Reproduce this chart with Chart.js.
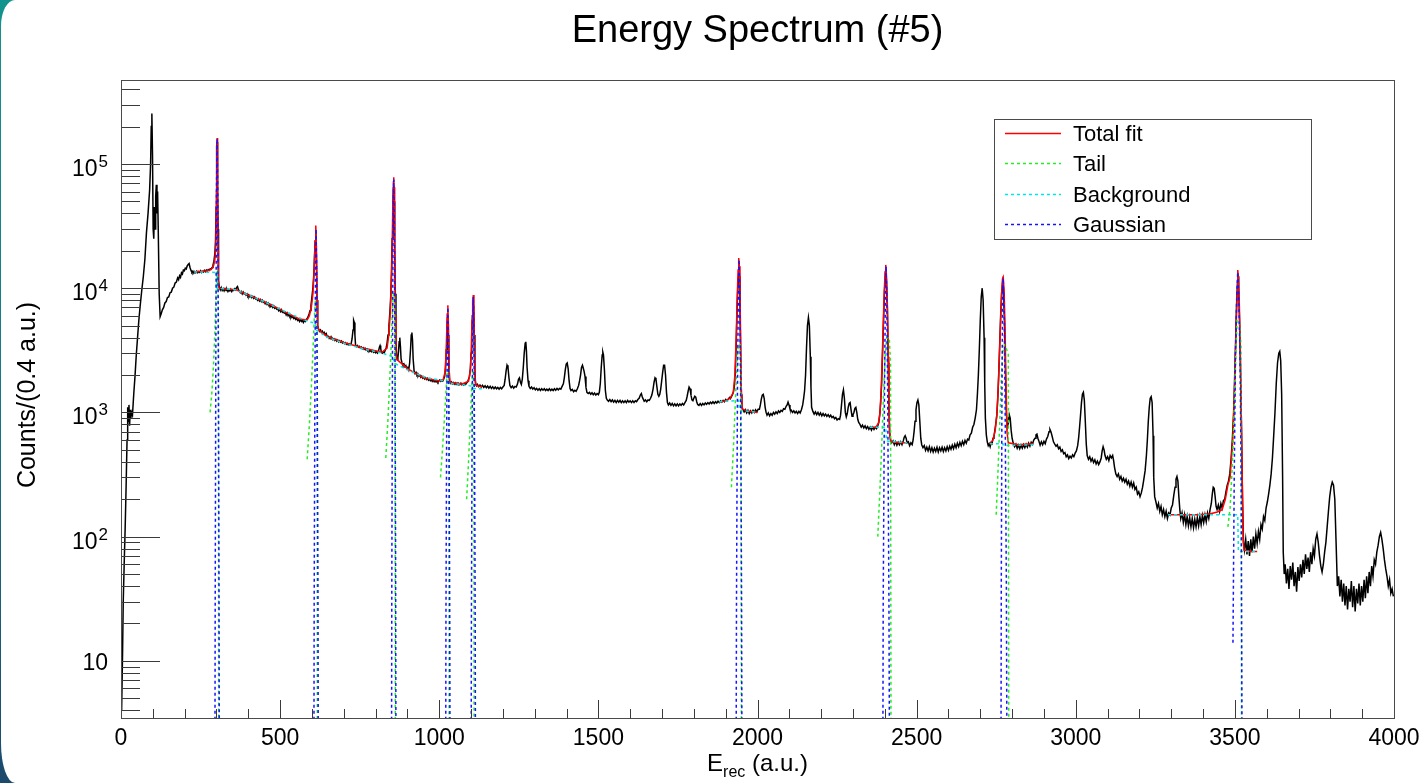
<!DOCTYPE html>
<html>
<head>
<meta charset="utf-8">
<title>Energy Spectrum (#5)</title>
<script src="https://cdn.jsdelivr.net/npm/chart.js@4.4.0/dist/chart.umd.min.js"></script>
<style>
  html, body { margin: 0; padding: 0; }
  body {
    width: 1422px; height: 783px; overflow: hidden; position: relative;
    background: linear-gradient(180deg, #12938d 0%, #177c86 45%, #1c4a6c 100%);
  }
  .card {
    position: absolute; left: 1px; top: 0; right: 0; bottom: 0; background: #fff;
    border-radius: 14px 0 0 14px / 26px 0 0 40px;
  }
  #spectrum { position: absolute; left: 0; top: 0; }
</style>
</head>
<body>
<div class="card"></div>
<canvas id="spectrum" width="1422" height="783"></canvas>
<script>
// axis ranges and tick labels
const xRange = [0, 4000];
const yRange = [3.47, 4.74e5];
const xTicks = [0, 500, 1000, 1500, 2000, 2500, 3000, 3500, 4000];
const xMinorStep = 100;
const yDecades = [10, 100, 1000, 10000, 100000];

const spectrum = [
  [2,4],[5,12],[7,30],[10,60],[13,115],[16,250],[19,600],[21,1100],[23,850],[25,1150],[27,780],[29,1050],[31,900],[33,1000],[36,950],
  [40,1400],[44,1950],[48,2900],[52,4000],[56,5500],[60,7100],[65,9500],[70,12300],[75,17000],[80,28000],[85,40000],[90,62000],
  [93,100000],[95,200000],[97,255000],[99,120000],[101,30000],[103,25000],[105,45000],[107,30000],[109,55000],[111,68000],[113,40000],
  [115,60000],[117,30000],[120,9000],[123,5900],
  [126,6200],[130,6700],[134,7000],[138,7600],[142,7800],[146,8400],[150,8500],[154,9200],[158,9300],[162,10000],[166,10200],[170,11000],
  [174,11200],[178,12100],[181,11700],[184,12600],[187,12200],[190,13300],[193,13000],[196,14000],[199,13800],[202,14500],[205,14300],
  [208,15100],[211,15500],[214,15800],[217,14600],[220,13900],[223,13400],[226,13700],[229,13200],[232,13600],[235,13300],[238,13700],
  [241,13300],[244,13600],[247,13400],[250,13800],[253,13400],[256,13700],[259,13500],[262,13900],[265,13600],[268,14000],[271,13700],
  [274,14100],[277,13900],[280,14300],[283,14200],[286,14700],[289,15300],[292,16500],[295,19000],[297,24000],[299,45000],[300,90000],
  [301,140000],[302,150000],[303,120000],[304,60000],[305,30000],[306,16000],[307,11500],
  [309,10200],[312,9700],[315,10100],[318,9600],[321,9900],[324,9500],[327,9900],[330,9600],[333,9800],[336,9400],[339,9700],[342,9500],
  [345,9800],[348,9400],[351,9700],[354,9600],[357,9900],[360,9700],[363,10100],[366,10300],[369,9700],[372,9500],[375,9200],[378,9400],
  [381,9000],[384,9300],[387,9000],[390,9100],[393,8800],[396,9000],[399,8600],[402,8800],[405,8500],[408,8700],[411,8400],[414,8600],
  [417,8300],[420,8500],[423,8200],[426,8300],[429,8000],[432,8200],[435,7900],[438,8100],[441,7800],[444,8000],[447,7700],[450,7800],
  [453,7500],[456,7700],[459,7400],[462,7600],[465,7300],[468,7400],[471,7100],[474,7300],[477,7000],[480,7200],[483,6900],[486,7000],
  [489,6800],[492,6900],[495,6600],[498,6800],[501,6500],[504,6700],[507,6400],[510,6500],[513,6300],[516,6400],[519,6100],[522,6300],
  [525,6000],[528,6200],[531,5900],[534,6000],[537,5800],[540,5900],[543,5700],[546,5800],[549,5600],[552,5700],[555,5500],[558,5600],
  [561,5400],[564,5600],[567,5400],[570,5500],[573,5300],[576,5500],[579,5400],[582,5600],[585,5700],[588,5900],[591,6200],[594,6600],
  [597,7300],[600,8500],[603,10000],[606,13000],[608,18000],[610,24000],[612,28000],[614,18000],[616,8000],[618,5000],
  [621,4700],[624,4500],[627,4600],[630,4400],[633,4500],[636,4300],[639,4400],[642,4200],[645,4300],[648,4050],[651,4100],[654,3950],
  [657,4050],[660,3900],[663,3980],[666,3850],[669,3920],[672,3800],[675,3880],[678,3750],[681,3820],[684,3700],[687,3780],[690,3680],
  [693,3750],[696,3620],[699,3680],[702,3580],[705,3640],[708,3540],[711,3600],[714,3500],[717,3560],[720,3480],[723,3560],[726,3900],
  [729,4600],[731,5500],[733,5300],[735,4200],[737,3500],[740,3380],[743,3450],[746,3350],[749,3400],[752,3300],[755,3360],[758,3260],
  [761,3320],[764,3220],[767,3280],[770,3180],[773,3240],[776,3140],[779,3200],[782,3100],[785,3160],[788,3080],[791,3140],[794,3050],
  [797,3100],[800,3020],[803,3080],[806,3000],[809,3100],[812,3350],[814,3450],[816,3300],[818,3050],[821,3000],[824,3080],[827,3020],
  [830,3150],[833,3300],[836,3600],[839,4200],[842,5000],[845,6500],[848,9000],[850,14000],[852,25000],[854,45000],[856,65000],
  [858,50000],[860,22000],[862,9000],[864,3800],[866,2800],[868,2650],[870,2750],[872,3100],[874,3700],[876,4000],[878,3400],[880,2700],
  [883,2500],[886,2400],[889,2450],[892,2330],[895,2380],[898,2250],[901,2300],[904,2200],[907,2500],[910,3300],[912,4200],[914,4400],
  [916,3800],[918,2700],[921,2150],[924,2050],[927,2100],[930,2000],[933,2040],[936,1960],[939,2000],[942,1920],[945,1960],[948,1890],
  [951,1930],[954,1860],[957,1900],[960,1840],[963,1880],[966,1820],[969,1860],[972,1800],[975,1840],[978,1780],[981,1820],[984,1770],
  [987,1810],[990,1760],[993,1800],[996,1750],[999,1800],[1002,1830],[1005,1780],[1008,1820],[1011,1790],[1014,1860],[1017,1950],
  [1020,2300],[1022,3200],[1024,4800],[1026,5800],[1028,4200],[1030,2300],[1032,1800],[1035,1720],[1038,1760],[1041,1700],[1044,1740],
  [1047,1690],[1050,1730],[1053,1680],[1056,1720],[1059,1670],[1062,1710],[1065,1680],[1068,1720],[1071,1670],[1074,1700],[1077,1660],
  [1080,1700],[1083,1680],[1086,1730],[1089,1760],[1092,1850],[1095,1950],[1098,2300],[1100,3000],[1102,4200],[1104,6000],[1106,7800],
  [1108,7200],[1110,4200],[1112,2200],[1114,1700],[1117,1640],
  [1120,1680],[1124,1610],[1128,1660],[1132,1600],[1136,1650],[1140,1590],[1144,1640],[1148,1580],[1152,1630],[1156,1570],[1160,1620],
  [1164,1560],[1168,1610],[1172,1550],[1176,1600],[1180,1550],[1184,1590],[1188,1540],[1192,1590],[1196,1550],[1200,1600],[1204,1650],
  [1207,1850],[1210,2150],[1213,2400],[1216,2300],[1219,1900],[1222,1650],[1226,1580],[1230,1630],[1234,1570],[1238,1620],[1242,1600],
  [1246,1700],[1249,1850],[1252,1900],[1255,1750],[1258,1680],[1261,1850],[1264,2300],[1267,3000],[1270,3600],[1272,3700],[1274,3100],
  [1276,2300],[1279,1800],[1282,1620],[1286,1560],[1290,1600],[1294,1540],[1298,1580],[1302,1520],[1306,1560],[1310,1510],[1314,1550],
  [1318,1500],[1322,1550],[1326,1510],[1330,1550],[1334,1500],[1338,1540],[1342,1500],[1346,1550],[1350,1500],[1354,1540],[1358,1500],
  [1362,1550],[1366,1510],[1370,1560],[1374,1520],[1378,1560],[1382,1540],[1386,1620],[1390,1700],[1393,1900],[1396,2200],[1399,2450],
  [1402,2500],[1405,2250],[1408,1800],[1411,1560],[1414,1500],[1418,1530],[1422,1470],[1426,1510],[1430,1480],[1434,1550],[1438,1650],
  [1441,1800],[1444,2000],[1447,2300],[1450,2400],[1452,2300],[1455,2150],[1458,1950],[1461,1600],[1464,1450],[1468,1420],[1472,1450],
  [1476,1400],[1480,1440],[1484,1390],[1488,1430],[1492,1380],[1496,1420],[1500,1390],[1503,1450],[1506,1700],[1509,2300],[1512,2900],
  [1514,3050],[1516,2900],[1519,2200],[1522,1500],[1525,1300],[1528,1260],[1532,1230],[1536,1270],[1540,1220],[1544,1260],[1548,1210],
  [1552,1250],[1556,1200],[1560,1250],[1564,1210],[1568,1250],[1572,1200],[1576,1240],[1580,1200],[1584,1240],[1588,1200],[1592,1250],
  [1596,1210],[1600,1240],[1604,1200],[1608,1240],[1612,1200],[1616,1240],[1620,1220],[1624,1270],[1628,1300],[1632,1380],[1635,1420],
  [1638,1330],[1641,1280],[1644,1230],[1648,1260],[1652,1220],[1656,1260],[1660,1250],[1664,1300],[1668,1380],[1672,1550],[1675,1750],
  [1678,1900],[1681,1850],[1684,1600],[1687,1400],[1690,1350],[1693,1400],[1696,1550],[1699,1800],[1702,2100],[1705,2400],[1708,2400],
  [1711,2000],[1714,1450],[1717,1200],[1720,1150],[1724,1190],[1728,1140],[1732,1180],[1736,1130],[1740,1170],[1744,1130],[1748,1170],
  [1752,1130],[1756,1170],[1760,1140],[1764,1180],[1768,1150],[1772,1200],[1776,1250],[1779,1350],[1782,1480],[1785,1600],[1788,1550],
  [1791,1380],[1794,1260],[1797,1240],[1800,1300],[1803,1350],[1806,1330],[1809,1220],[1812,1160],[1816,1140],[1820,1180],[1824,1140],
  [1828,1180],[1832,1150],[1836,1190],[1840,1160],[1844,1200],[1848,1170],[1852,1210],[1856,1180],[1860,1220],[1864,1180],[1868,1220],
  [1872,1190],[1876,1230],[1880,1200],[1884,1240],[1888,1210],[1892,1250],[1896,1220],[1900,1270],[1904,1240],[1908,1280],[1912,1320],
  [1915,1290],[1918,1340],[1921,1380],[1924,1450],[1927,1600],[1930,2000],[1933,3500],[1936,7000],[1939,12000],[1941,15000],[1943,12500],
  [1945,7000],[1947,3000],[1949,1400],[1951,1100],
  [1954,1060],[1958,1010],[1962,1050],[1966,990],[1970,1040],[1974,980],[1978,1030],[1982,990],[1986,1040],[1990,1000],[1994,1050],
  [1998,1010],[2002,1060],[2006,1060],[2009,1150],[2012,1280],[2015,1380],[2018,1400],[2021,1300],[2024,1100],[2027,1000],[2030,950],
  [2034,990],[2038,940],[2042,980],[2046,950],[2050,1000],[2054,970],[2058,1010],[2062,980],[2066,1030],[2070,1000],[2074,1040],
  [2078,1020],[2082,1070],[2086,1060],[2090,1120],[2093,1150],[2096,1210],[2099,1150],[2102,1070],[2106,1040],[2110,1000],[2114,1030],
  [2118,990],[2122,1020],[2126,980],[2130,1020],[2134,990],[2138,1050],[2142,1150],[2145,1300],[2148,1500],[2151,2000],[2154,3300],
  [2157,5000],[2160,5800],[2163,5000],[2166,2800],[2168,1600],[2170,1100],[2174,1020],[2178,970],[2182,1010],[2186,960],[2190,1000],
  [2194,950],[2198,990],[2202,940],[2206,980],[2210,940],[2214,970],[2218,930],[2222,960],[2226,920],[2230,950],[2234,910],[2238,930],
  [2242,890],[2246,910],[2250,870],[2254,890],[2258,880],[2261,950],[2264,1150],[2267,1400],[2270,1520],[2273,1300],[2276,1000],
  [2279,920],[2282,980],[2285,1100],[2288,1180],[2291,1200],[2294,1050],[2297,930],[2300,960],[2303,1000],[2306,1080],[2309,1100],
  [2312,1000],[2315,880],[2318,830],[2322,800],[2326,760],[2330,790],[2334,750],[2338,780],[2342,740],[2346,770],[2350,730],[2354,760],
  [2358,720],[2362,760],[2366,730],[2370,760],[2374,740],[2378,780],[2381,830],[2384,950],[2387,1200],[2390,1700],[2393,3000],
  [2396,5500],[2399,9500],[2402,13000],[2405,12000],[2408,7000],[2411,2500],[2413,1100],[2415,700],[2418,600],[2422,570],[2426,590],
  [2430,550],[2434,580],[2438,545],[2442,575],[2446,550],[2450,580],[2454,550],[2458,590],[2461,630],[2464,650],[2467,620],[2470,570],
  [2474,580],[2478,540],[2482,570],[2486,550],[2489,600],[2492,700],[2495,850],[2498,1050],[2501,1200],[2504,1260],[2507,1150],
  [2510,850],[2513,620],[2516,550],[2520,520],
  [2524,540],[2528,495],[2532,525],[2536,490],[2540,530],[2544,485],[2548,520],[2552,480],[2556,515],[2560,485],[2564,525],[2568,480],
  [2572,520],[2576,490],[2580,525],[2584,485],[2588,520],[2592,490],[2596,530],[2600,495],[2604,535],[2608,505],[2612,545],[2616,510],
  [2620,555],[2624,520],[2628,565],[2632,530],[2636,575],[2640,540],[2644,585],[2648,550],[2652,595],[2656,565],[2660,610],[2664,600],
  [2668,660],[2672,680],[2676,760],[2680,800],[2684,900],[2688,1050],[2691,1400],[2694,2000],[2697,3200],[2700,5500],[2703,8500],
  [2706,10000],[2709,8000],[2712,4000],[2714,1700],[2716,900],[2719,660],[2722,580],[2725,540],[2728,560],[2731,530],[2734,570],
  [2737,560],[2740,620],[2743,640],[2746,720],[2749,820],[2752,950],[2755,1300],[2758,2000],[2761,3500],[2764,6000],[2767,9000],
  [2770,11000],[2773,9500],[2776,5500],[2779,2200],[2782,1000],[2785,760],[2788,820],[2791,960],[2794,900],[2797,720],[2800,620],
  [2804,560],[2808,530],[2812,555],[2816,515],[2820,545],[2824,510],[2828,545],[2832,515],[2836,550],[2840,520],[2844,555],[2848,525],
  [2852,565],[2856,535],[2860,575],[2864,555],[2868,600],[2872,620],[2875,660],[2878,670],[2881,620],[2884,590],[2888,545],[2892,580],
  [2896,550],[2900,585],[2904,560],[2908,610],[2912,640],[2916,700],[2919,730],[2922,700],[2926,640],[2930,580],[2934,555],[2938,535],
  [2942,550],[2946,510],[2950,525],[2954,485],[2958,500],[2962,465],[2966,475],[2970,440],[2974,455],[2978,425],[2982,445],[2986,430],
  [2990,455],[2994,440],[2998,470],[3002,490],[3006,540],[3009,620],[3012,760],[3015,950],[3018,1200],[3021,1400],[3024,1450],
  [3027,1250],[3030,850],[3033,560],[3036,450],[3040,420],[3044,440],[3048,405],[3052,425],[3056,395],[3060,415],[3064,385],[3068,405],
  [3072,380],[3076,400],[3080,430],[3083,490],[3086,530],[3089,500],[3092,450],[3096,420],[3100,440],[3104,410],[3108,450],[3112,430],
  [3116,450],[3119,410],[3122,360],[3126,320],[3130,305],[3134,320],[3138,290],[3142,305],[3146,280],[3150,295],[3154,275],[3158,290],
  [3162,265],[3166,280],[3170,255],[3174,275],[3178,250],[3182,270],[3186,240],[3190,250],[3194,220],[3198,230],[3202,210],[3206,225],
  [3210,250],[3214,290],[3218,340],[3222,450],[3225,600],[3228,850],[3231,1100],[3234,1300],[3237,1340],[3240,1200],[3243,650],
  [3245,300],[3248,210],
  [3252,190],[3256,170],[3260,185],[3264,160],[3268,175],[3272,150],[3276,165],[3280,145],[3284,160],[3288,140],[3292,155],[3296,150],
  [3300,170],[3304,180],[3308,215],[3312,250],[3315,290],[3318,305],[3321,280],[3324,210],[3327,165],[3330,140],[3334,155],[3338,130],
  [3342,150],[3346,125],[3350,145],[3354,122],[3358,142],[3362,120],[3366,140],[3370,118],[3374,138],[3378,120],[3382,142],[3386,122],
  [3390,145],[3394,125],[3398,148],[3402,130],[3406,150],[3410,132],[3414,155],[3418,140],[3422,165],[3426,185],[3429,220],[3432,250],
  [3435,245],[3438,210],[3441,175],[3444,165],[3448,180],[3452,160],[3456,185],[3460,170],[3464,195],[3468,200],[3472,230],[3476,260],
  [3480,280],[3484,320],[3488,420],[3492,600],[3496,1000],[3499,1800],[3502,3500],[3505,7000],[3508,11000],[3510,12500],[3512,10000],
  [3515,5000],[3518,2000],[3521,700],[3524,200],[3527,90],
  [3530,78],[3534,95],[3538,72],[3542,92],[3546,70],[3550,95],[3554,75],[3558,100],[3562,80],[3566,105],[3570,88],[3574,110],[3578,95],
  [3582,125],[3586,115],[3590,145],[3594,135],[3598,170],[3602,190],[3606,220],[3610,260],[3614,320],[3618,430],[3622,650],[3626,1000],
  [3630,1700],[3634,2500],[3638,3000],[3641,3100],[3644,2600],[3647,1400],[3650,300],[3652,75],[3655,50],
  [3658,60],[3662,42],[3666,55],[3670,38],[3674,58],[3678,45],[3682,62],[3686,40],[3690,52],[3694,36],[3698,57],[3702,44],[3706,60],
  [3710,47],[3714,65],[3718,50],[3722,72],[3726,55],[3730,68],[3734,52],[3738,75],[3742,60],[3746,80],[3750,70],[3754,95],[3758,105],
  [3762,90],[3766,70],[3770,58],[3774,52],[3778,60],[3782,75],[3786,90],[3790,120],[3794,160],[3798,210],[3802,250],[3806,275],
  [3810,260],[3814,200],[3818,90],[3822,40],[3826,48],[3830,33],[3834,45],[3838,30],[3842,42],[3846,28],[3850,40],[3854,26],[3858,38],
  [3862,30],[3866,44],[3870,27],[3874,40],[3878,25],[3882,38],[3886,29],[3890,42],[3894,28],[3898,40],[3902,30],[3906,45],[3910,32],
  [3914,48],[3918,35],[3922,52],[3926,40],[3930,58],[3934,48],[3938,65],[3942,60],[3946,75],[3950,85],[3954,100],[3958,108],[3962,95],
  [3966,80],[3970,65],[3974,55],[3978,48],[3982,40],[3986,45],[3990,35],[3994,38],[3998,33]
];

// fit curves, one segment per fit window (null separates windows)
const totalFit = [
  [230,13500],[240,13600],[250,13600],[260,13700],[270,13800],[280,14000],[286,14400],[291,15200],[295,17000],[298,22000],[300,60000],
  [301,120000],[302,162000],[303,120000],[304,55000],[305,20000],[306,11000],[308,10000],[330,9800],[360,9750],[400,8800],[440,8000],
  [480,7150],[520,6350],[560,5650],[585,5550],[592,6000],[598,7000],[603,9000],[607,14000],[610,24000],[612,32000],[614,22000],
  [616,8000],[618,5000],[621,4600],[650,4050],[700,3650],[760,3300],[820,3050],[836,3300],[842,4300],[847,7000],[851,15000],[854,45000],
  [856,72000],[857,78000],[858,65000],[860,25000],[862,6000],[864,2900],[868,2650],[900,2250],[950,1900],[1000,1790],[1012,1830],
  [1018,2100],[1021,2800],[1023,4000],[1025,6200],[1027,7300],[1029,5000],[1031,2200],[1034,1750],[1070,1690],[1092,1780],[1098,2200],
  [1101,3500],[1103,5500],[1105,7800],[1107,8800],[1109,6500],[1111,2800],[1113,1800],[1116,1650],[1135,1600],
  null,
  [1880,1210],[1900,1240],[1914,1300],[1924,1450],[1929,2000],[1933,4000],[1936,8000],[1939,14000],[1941,17500],[1943,15000],
  [1945,9000],[1947,4000],[1949,1600],[1952,1060],[1975,1020],[2000,1000],
  null,
  [2353,760],[2372,760],[2380,820],[2385,1000],[2389,1600],[2392,2800],[2395,5000],[2398,9000],[2401,13500],[2403,15400],[2405,13000],
  [2408,7500],[2411,2800],[2413,1100],[2416,640],[2420,580],[2445,570],[2470,570],
  null,
  [2730,560],[2740,600],[2747,720],[2752,950],[2756,1500],[2760,2800],[2764,5500],[2767,9000],[2770,12000],[2772,12300],[2775,9500],
  [2778,4500],[2781,1600],[2784,700],[2788,570],[2820,550],[2867,560],
  null,
  [3290,150],[3330,150],[3380,150],[3420,152],[3445,158],[3460,165],[3470,200],[3478,260],[3485,300],[3490,450],[3494,650],[3498,1200],
  [3501,2500],[3504,4600],[3507,9000],[3509,14000],[3511,12500],[3514,7500],[3517,3200],[3520,1000],[3523,300],[3526,95],[3529,78],
  [3550,76],[3570,76]
];

const tailFit = [
  [280,1000],[286,1500],[291,2500],[295,4500],[298,8000],[301,14000],[304,14000],[306,6000],[308,0.001],
  null,
  [585,420],[592,800],[598,1600],[603,3000],[607,5500],[611,8000],[614,8000],[616,3000],[618,0.001],
  null,
  [832,430],[838,800],[843,1500],[848,3000],[852,6000],[856,9000],[859,9000],[861,3000],[863,0.001],
  null,
  [1004,300],[1010,500],[1015,800],[1020,1300],[1024,2000],[1027,2200],[1030,2200],[1032,0.001],
  null,
  [1086,200],[1092,400],[1097,800],[1101,1400],[1105,2200],[1108,2200],[1111,0.001],
  null,
  [1918,250],[1924,500],[1929,1000],[1934,2000],[1939,3500],[1945,3500],[1948,2000],[1951,0.001],
  null,
  [2378,100],[2385,250],[2391,600],[2396,1400],[2401,2800],[2406,4000],[2414,4000],[2418,2500],[2421,0.001],
  null,
  [2750,150],[2756,350],[2761,800],[2766,1800],[2770,3000],[2776,3500],[2788,3000],[2791,0.001],
  null,
  [3478,120],[3485,170],[3490,300],[3494,500],[3498,1000],[3501,2000],[3504,3500],[3507,5500],[3514,5500],[3519,3500],[3523,0.001]
];

const backgroundFit = [
  [230,13500],[300,13400],[302,10000],[360,9700],[440,8000],[520,6400],[580,5500],[611,5200],[613,4600],[650,4000],[700,3600],
  [760,3250],[820,3000],[856,2800],[858,2500],[900,2200],[960,1900],[1026,1780],[1028,1720],[1070,1680],[1106,1620],[1108,1560],
  [1135,1550],
  null,
  [1880,1220],[1941,1250],[1943,1040],[2000,1000],
  null,
  [2353,760],[2403,760],[2405,590],[2470,570],
  null,
  [2730,560],[2771,560],[2773,540],[2867,550],
  null,
  [3290,150],[3509,150],[3511,76],[3570,76]
];

const gaussFit = [
  [293,0.001],[296,30],[298,3000],[300,60000],[302,160000],[304,60000],[306,3000],[308,30],[311,0.001],
  null,
  [604,0.001],[607,30],[609,1000],[611,12000],[613,30000],[615,12000],[617,1000],[619,30],[622,0.001],
  null,
  [848,0.001],[851,50],[853,3000],[855,30000],[857,75000],[859,30000],[861,3000],[863,50],[866,0.001],
  null,
  [1018,0.001],[1021,20],[1023,500],[1025,3500],[1027,7000],[1029,3500],[1031,500],[1033,20],[1036,0.001],
  null,
  [1098,0.001],[1101,20],[1103,500],[1105,4000],[1107,8500],[1109,4000],[1111,500],[1113,20],[1116,0.001],
  null,
  [1930,0.001],[1934,30],[1937,1500],[1940,10000],[1942,17000],[1944,10000],[1947,1500],[1950,30],[1954,0.001],
  null,
  [2391,0.001],[2395,30],[2399,1500],[2402,9000],[2404,15000],[2406,9000],[2409,1500],[2413,30],[2419,0.001],
  null,
  [2763,0.001],[2766,40],[2768,1200],[2770,7000],[2772,12000],[2775,7000],[2778,1200],[2782,40],[2788,0.001],
  null,
  [3494,14],[3498,300],[3502,3000],[3506,9000],[3509,13500],[3512,9000],[3516,3000],[3520,300],[3526,0.001]
];

// [E, y] pairs -> chart points, null breaks the line
const toPoints = pairs => {
  const pts = [];
  let lastX = 0;
  pairs.forEach(p => {
    if (p === null) { pts.push({ x: lastX, y: null }); return; }
    lastX = p[0];
    pts.push({ x: p[0], y: p[1] });
  });
  return pts;
};

const FONT = '"Liberation Sans", Arial, Helvetica, sans-serif';

// ROOT-like frame, ticks, labels and legend
const rootFrame = {
  id: 'rootFrame',
  afterDatasetsDraw(chart) {
    const { ctx, chartArea: a } = chart;
    const xs = chart.scales.x, ys = chart.scales.y;
    ctx.save();
    ctx.strokeStyle = '#3a3a3a';
    ctx.lineWidth = 1;
    ctx.setLineDash([]);

    ctx.beginPath();
    for (let v = xRange[0]; v <= xRange[1]; v += xMinorStep) {
      const px = Math.round(xs.getPixelForValue(v)) + 0.5;
      const len = xTicks.includes(v) ? 18 : 9;
      ctx.moveTo(px, a.bottom);
      ctx.lineTo(px, a.bottom - len);
    }
    for (let d = 1; d <= 1e5; d *= 10) {
      for (let m = 1; m <= 9; m++) {
        const v = m * d;
        if (v < yRange[0] || v > yRange[1]) continue;
        const py = Math.round(ys.getPixelForValue(v)) + 0.5;
        ctx.moveTo(a.left, py);
        ctx.lineTo(a.left + (m === 1 ? 39 : 19), py);
      }
    }
    ctx.stroke();

    ctx.strokeStyle = '#4a4a4a';
    ctx.strokeRect(Math.round(a.left) + 0.5, Math.round(a.top) + 0.5,
      Math.round(a.right - a.left), Math.round(a.bottom - a.top));

    // x tick labels
    ctx.fillStyle = '#000';
    ctx.font = '23px ' + FONT;
    ctx.textAlign = 'center';
    ctx.textBaseline = 'alphabetic';
    xTicks.forEach(v => ctx.fillText(String(v), xs.getPixelForValue(v), 745));

    // y tick labels, 10^n
    const labRight = 108;
    yDecades.forEach(v => {
      const py = ys.getPixelForValue(v);
      const n = Math.round(Math.log10(v));
      if (n === 1) {
        ctx.font = '23px ' + FONT;
        ctx.textAlign = 'right';
        ctx.fillText('10', labRight, py + 9);
      } else {
        ctx.font = '17px ' + FONT;
        ctx.textAlign = 'right';
        const ew = ctx.measureText(String(n)).width;
        ctx.fillText(String(n), labRight, py + 3);
        ctx.font = '23px ' + FONT;
        ctx.fillText('10', labRight - ew - 1, py + 12);
      }
    });

    // title
    ctx.font = '38px ' + FONT;
    ctx.textAlign = 'center';
    ctx.fillText('Energy Spectrum (#5)', (a.left + a.right) / 2, 42);

    // x axis title E_rec (a.u.)
    ctx.textAlign = 'left';
    ctx.font = '24px ' + FONT;
    const wE = ctx.measureText('E').width;
    const wRest = ctx.measureText(' (a.u.)').width;
    ctx.font = '16px ' + FONT;
    const wSub = ctx.measureText('rec').width;
    let tx = (a.left + a.right) / 2 - (wE + wSub + wRest) / 2;
    ctx.font = '24px ' + FONT;
    ctx.fillText('E', tx, 771);
    tx += wE;
    ctx.font = '16px ' + FONT;
    ctx.fillText('rec', tx, 777);
    tx += wSub;
    ctx.font = '24px ' + FONT;
    ctx.fillText(' (a.u.)', tx, 771);

    // y axis title
    ctx.save();
    ctx.translate(35, 395);
    ctx.rotate(-Math.PI / 2);
    ctx.font = '25px ' + FONT;
    ctx.textAlign = 'center';
    ctx.fillText('Counts/(0.4 a.u.)', 0, 0);
    ctx.restore();

    // legend box
    const lx = 994, ly = 119, lw = 317, lh = 120;
    ctx.fillStyle = '#fff';
    ctx.fillRect(lx, ly, lw, lh);
    ctx.strokeStyle = '#4a4a4a';
    ctx.lineWidth = 1;
    ctx.strokeRect(lx + 0.5, ly + 0.5, lw, lh);
    const entries = chart.data.datasets.filter(ds => ds.inLegend);
    entries.forEach((ds, i) => {
      const ry = Math.round(ly + 14 + i * 30.3) + 0.5;
      ctx.strokeStyle = ds.borderColor;
      ctx.lineWidth = ds.borderWidth;
      ctx.setLineDash(ds.borderDash || []);
      ctx.beginPath();
      ctx.moveTo(lx + 11, ry);
      ctx.lineTo(lx + 67, ry);
      ctx.stroke();
      ctx.setLineDash([]);
      ctx.fillStyle = '#000';
      ctx.font = '22px ' + FONT;
      ctx.textAlign = 'left';
      ctx.textBaseline = 'middle';
      ctx.fillText(ds.label, lx + 79, ry + 1);
    });
    ctx.restore();
  }
};

new Chart(document.getElementById('spectrum').getContext('2d'), {
  type: 'line',
  data: {
    datasets: [
      { label: 'Data', data: toPoints(spectrum), borderColor: '#000000', borderWidth: 1.5, order: 5 },
      { label: 'Total fit', data: toPoints(totalFit), borderColor: '#ff0000', borderWidth: 1.5, order: 4, inLegend: true },
      { label: 'Tail', data: toPoints(tailFit), borderColor: '#22ee22', borderWidth: 1.5, borderDash: [3, 3], order: 2, inLegend: true },
      { label: 'Background', data: toPoints(backgroundFit), borderColor: '#00e5e5', borderWidth: 1.5, borderDash: [3, 3], order: 3, inLegend: true },
      { label: 'Gaussian', data: toPoints(gaussFit), borderColor: '#1414ff', borderWidth: 1.5, borderDash: [3, 3], order: 1, inLegend: true }
    ]
  },
  options: {
    responsive: false,
    animation: false,
    events: [],
    layout: { padding: { left: 121, right: 28, top: 80, bottom: 65 } },
    elements: { point: { radius: 0 }, line: { tension: 0 } },
    spanGaps: false,
    plugins: { legend: { display: false }, tooltip: { enabled: false }, title: { display: false } },
    scales: {
      x: { type: 'linear', min: xRange[0], max: xRange[1], display: false },
      y: { type: 'logarithmic', min: yRange[0], max: yRange[1], display: false }
    }
  },
  plugins: [rootFrame]
});
</script>
</body>
</html>
